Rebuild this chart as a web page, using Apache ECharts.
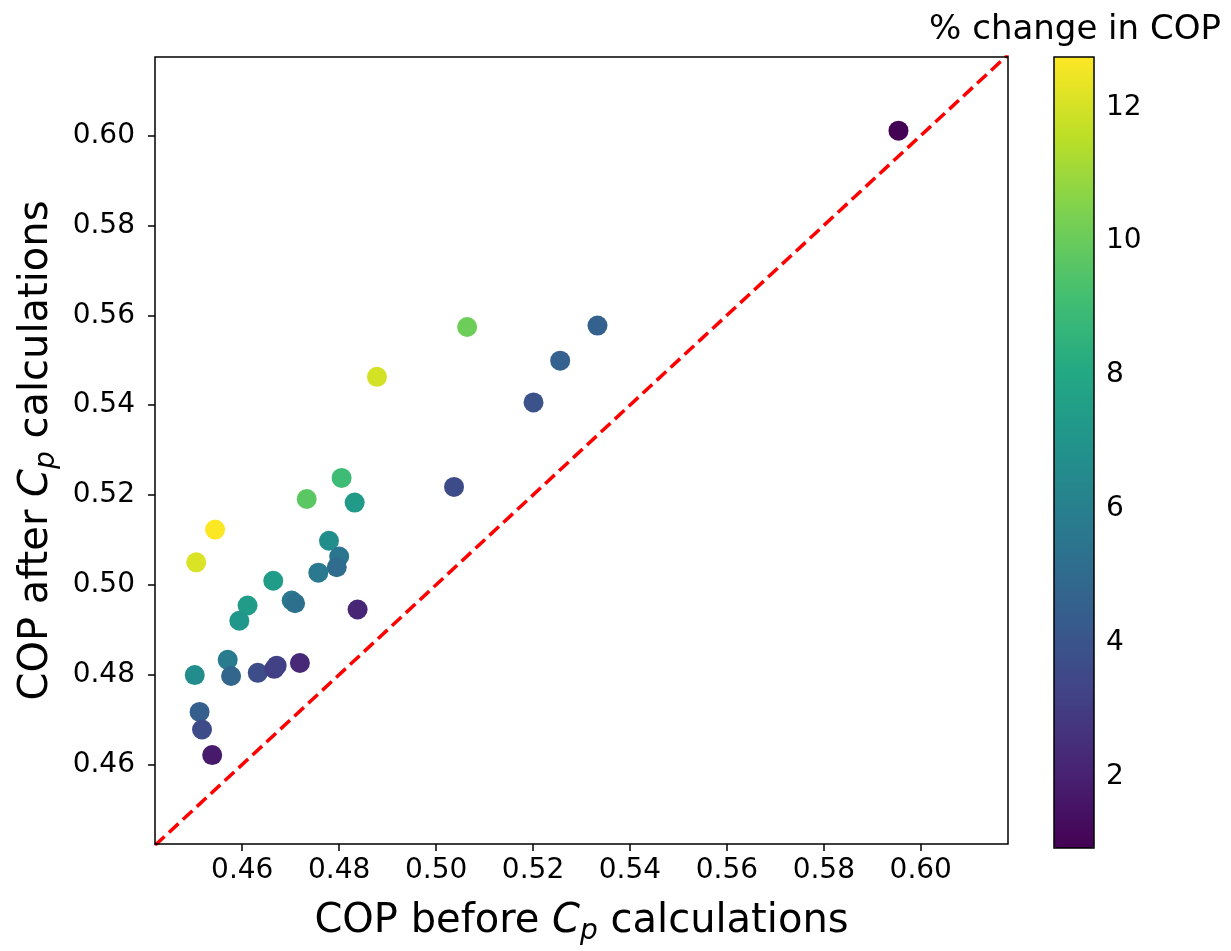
<!DOCTYPE html>
<html>
<head>
<meta charset="utf-8">
<script src="https://cdn.jsdelivr.net/npm/echarts@6/dist/echarts.min.js"></script>
<style>
  html, body { margin: 0; padding: 0; background: #fff; }
  #chart { width: 1231px; height: 951px; }
</style>
</head>
<body>
<div id="chart"></div>
<script>
const FONT = "'DejaVu Sans', sans-serif"

// COP before / after Cp calculations, and % change (colour)
const copBefore = [0.5954, 0.4544, 0.4505, 0.4733, 0.4805, 0.4832, 0.4779, 0.4800, 0.4795, 0.4757,
  0.4664, 0.4702, 0.4709, 0.4838, 0.4611, 0.4594, 0.4570, 0.4502, 0.4577, 0.4632,
  0.4666, 0.4671, 0.4719, 0.4512, 0.4517, 0.4538, 0.4878, 0.5064, 0.5333, 0.5256,
  0.5201, 0.5037]
const copAfter = [0.6011, 0.5123, 0.5050, 0.5191, 0.5238, 0.5183, 0.5098, 0.5063, 0.5039, 0.5027,
  0.5009, 0.4965, 0.4959, 0.4945, 0.4954, 0.4920, 0.4833, 0.4799, 0.4797, 0.4804,
  0.4813, 0.4820, 0.4826, 0.4717, 0.4678, 0.4621, 0.5463, 0.5574, 0.5577, 0.5499,
  0.5406, 0.5218]
const pctChange = [0.96, 12.74, 12.1, 9.7, 9.0, 7.3, 6.7, 5.5, 5.1, 5.7,
  7.4, 5.6, 5.3, 2.2, 7.4, 7.1, 5.8, 6.6, 4.8, 3.7,
  3.1, 3.2, 2.3, 4.5, 3.6, 1.8, 12.0, 10.1, 4.6, 4.6,
  3.9, 3.6]

const axisTicks = [0.46, 0.48, 0.50, 0.52, 0.54, 0.56, 0.58, 0.60]
const cbarTicks = [2, 4, 6, 8, 10, 12]
const xRange = [0.442, 0.618]
const yRange = [0.4423, 0.6175]
const cRange = [0.94, 12.75]
const identityLine = [[0.442, 0.442], [0.618, 0.618]]

const VIRIDIS = ['#440154', '#482475', '#414487', '#355f8d', '#2a788e', '#21918c',
  '#22a884', '#44bf70', '#7ad151', '#bddf26', '#fde725']

const points = copBefore.map((x, i) => [x, copAfter[i], pctChange[i]])

const titleRich = {
  i: { fontFamily: FONT, fontSize: 40, fontStyle: 'italic', color: '#000' },
  sub: { fontFamily: FONT, fontSize: 28, fontStyle: 'italic', color: '#000', padding: [20, 0, 0, 0] },
}

const chart = echarts.init(document.getElementById('chart'))
chart.setOption({
  animation: false,
  backgroundColor: '#fff',
  grid: [
    { left: 155, top: 57, width: 853, height: 791, show: true, borderColor: '#000', borderWidth: 1.5, z: 10, backgroundColor: 'transparent' },
    { left: 1054, top: 57, width: 40, height: 791, show: true, borderColor: '#000', borderWidth: 1.5, z: 10, backgroundColor: 'transparent' },
  ],
  xAxis: [
    {
      type: 'value', gridIndex: 0, min: xRange[0], max: xRange[1],
      name: 'COP before {i|C}{sub|p} calculations',
      nameLocation: 'middle', nameGap: 54,
      nameTextStyle: { fontFamily: FONT, fontSize: 40, color: '#000', rich: titleRich },
      axisLine: { show: false },
      axisTick: { show: true, inside: false, length: 7, lineStyle: { color: '#000', width: 1.5 }, customValues: axisTicks },
      axisLabel: { fontFamily: FONT, fontSize: 28, color: '#000', margin: 13, customValues: axisTicks, formatter: v => v.toFixed(2) },
      splitLine: { show: false },
    },
    { type: 'value', gridIndex: 1, min: 0, max: 1, show: false },
  ],
  yAxis: [
    {
      type: 'value', gridIndex: 0, min: yRange[0], max: yRange[1],
      name: 'COP after {i|C}{sub|p} calculations',
      nameLocation: 'middle', nameGap: 94,
      nameTextStyle: { fontFamily: FONT, fontSize: 40, color: '#000', rich: titleRich },
      axisLine: { show: false },
      axisTick: { show: true, inside: false, length: 7, lineStyle: { color: '#000', width: 1.5 }, customValues: axisTicks },
      axisLabel: { fontFamily: FONT, fontSize: 28, color: '#000', margin: 20, customValues: axisTicks, formatter: v => v.toFixed(2) },
      splitLine: { show: false },
    },
    {
      type: 'value', gridIndex: 1, min: cRange[0], max: cRange[1], position: 'right',
      axisLine: { show: false },
      axisTick: { show: true, inside: false, length: 7, lineStyle: { color: '#000', width: 1.5 }, customValues: cbarTicks },
      axisLabel: { fontFamily: FONT, fontSize: 28, color: '#000', margin: 12, customValues: cbarTicks },
      splitLine: { show: false },
    },
  ],
  visualMap: {
    type: 'continuous',
    min: cRange[0], max: cRange[1],
    dimension: 2, seriesIndex: 0,
    left: 1054, top: 57, padding: 0,
    itemWidth: 40, itemHeight: 791,
    calculable: false, hoverLink: false,
    inRange: { color: VIRIDIS },
  },
  graphic: [{
    type: 'text', x: 1075, y: 30,
    style: { text: '% change in COP', font: `34px ${FONT}`, fill: '#000', textAlign: 'center', textVerticalAlign: 'middle' },
  }],
  series: [
    {
      type: 'scatter', xAxisIndex: 0, yAxisIndex: 0,
      data: points, symbolSize: 20, z: 3,
      itemStyle: { opacity: 1 },
    },
    {
      type: 'line', xAxisIndex: 0, yAxisIndex: 0,
      data: identityLine, symbol: 'none', z: 2,
      lineStyle: { color: '#ff0000', width: 3.5, type: [13, 6] },
    },
  ],
})
</script>
</body>
</html>
